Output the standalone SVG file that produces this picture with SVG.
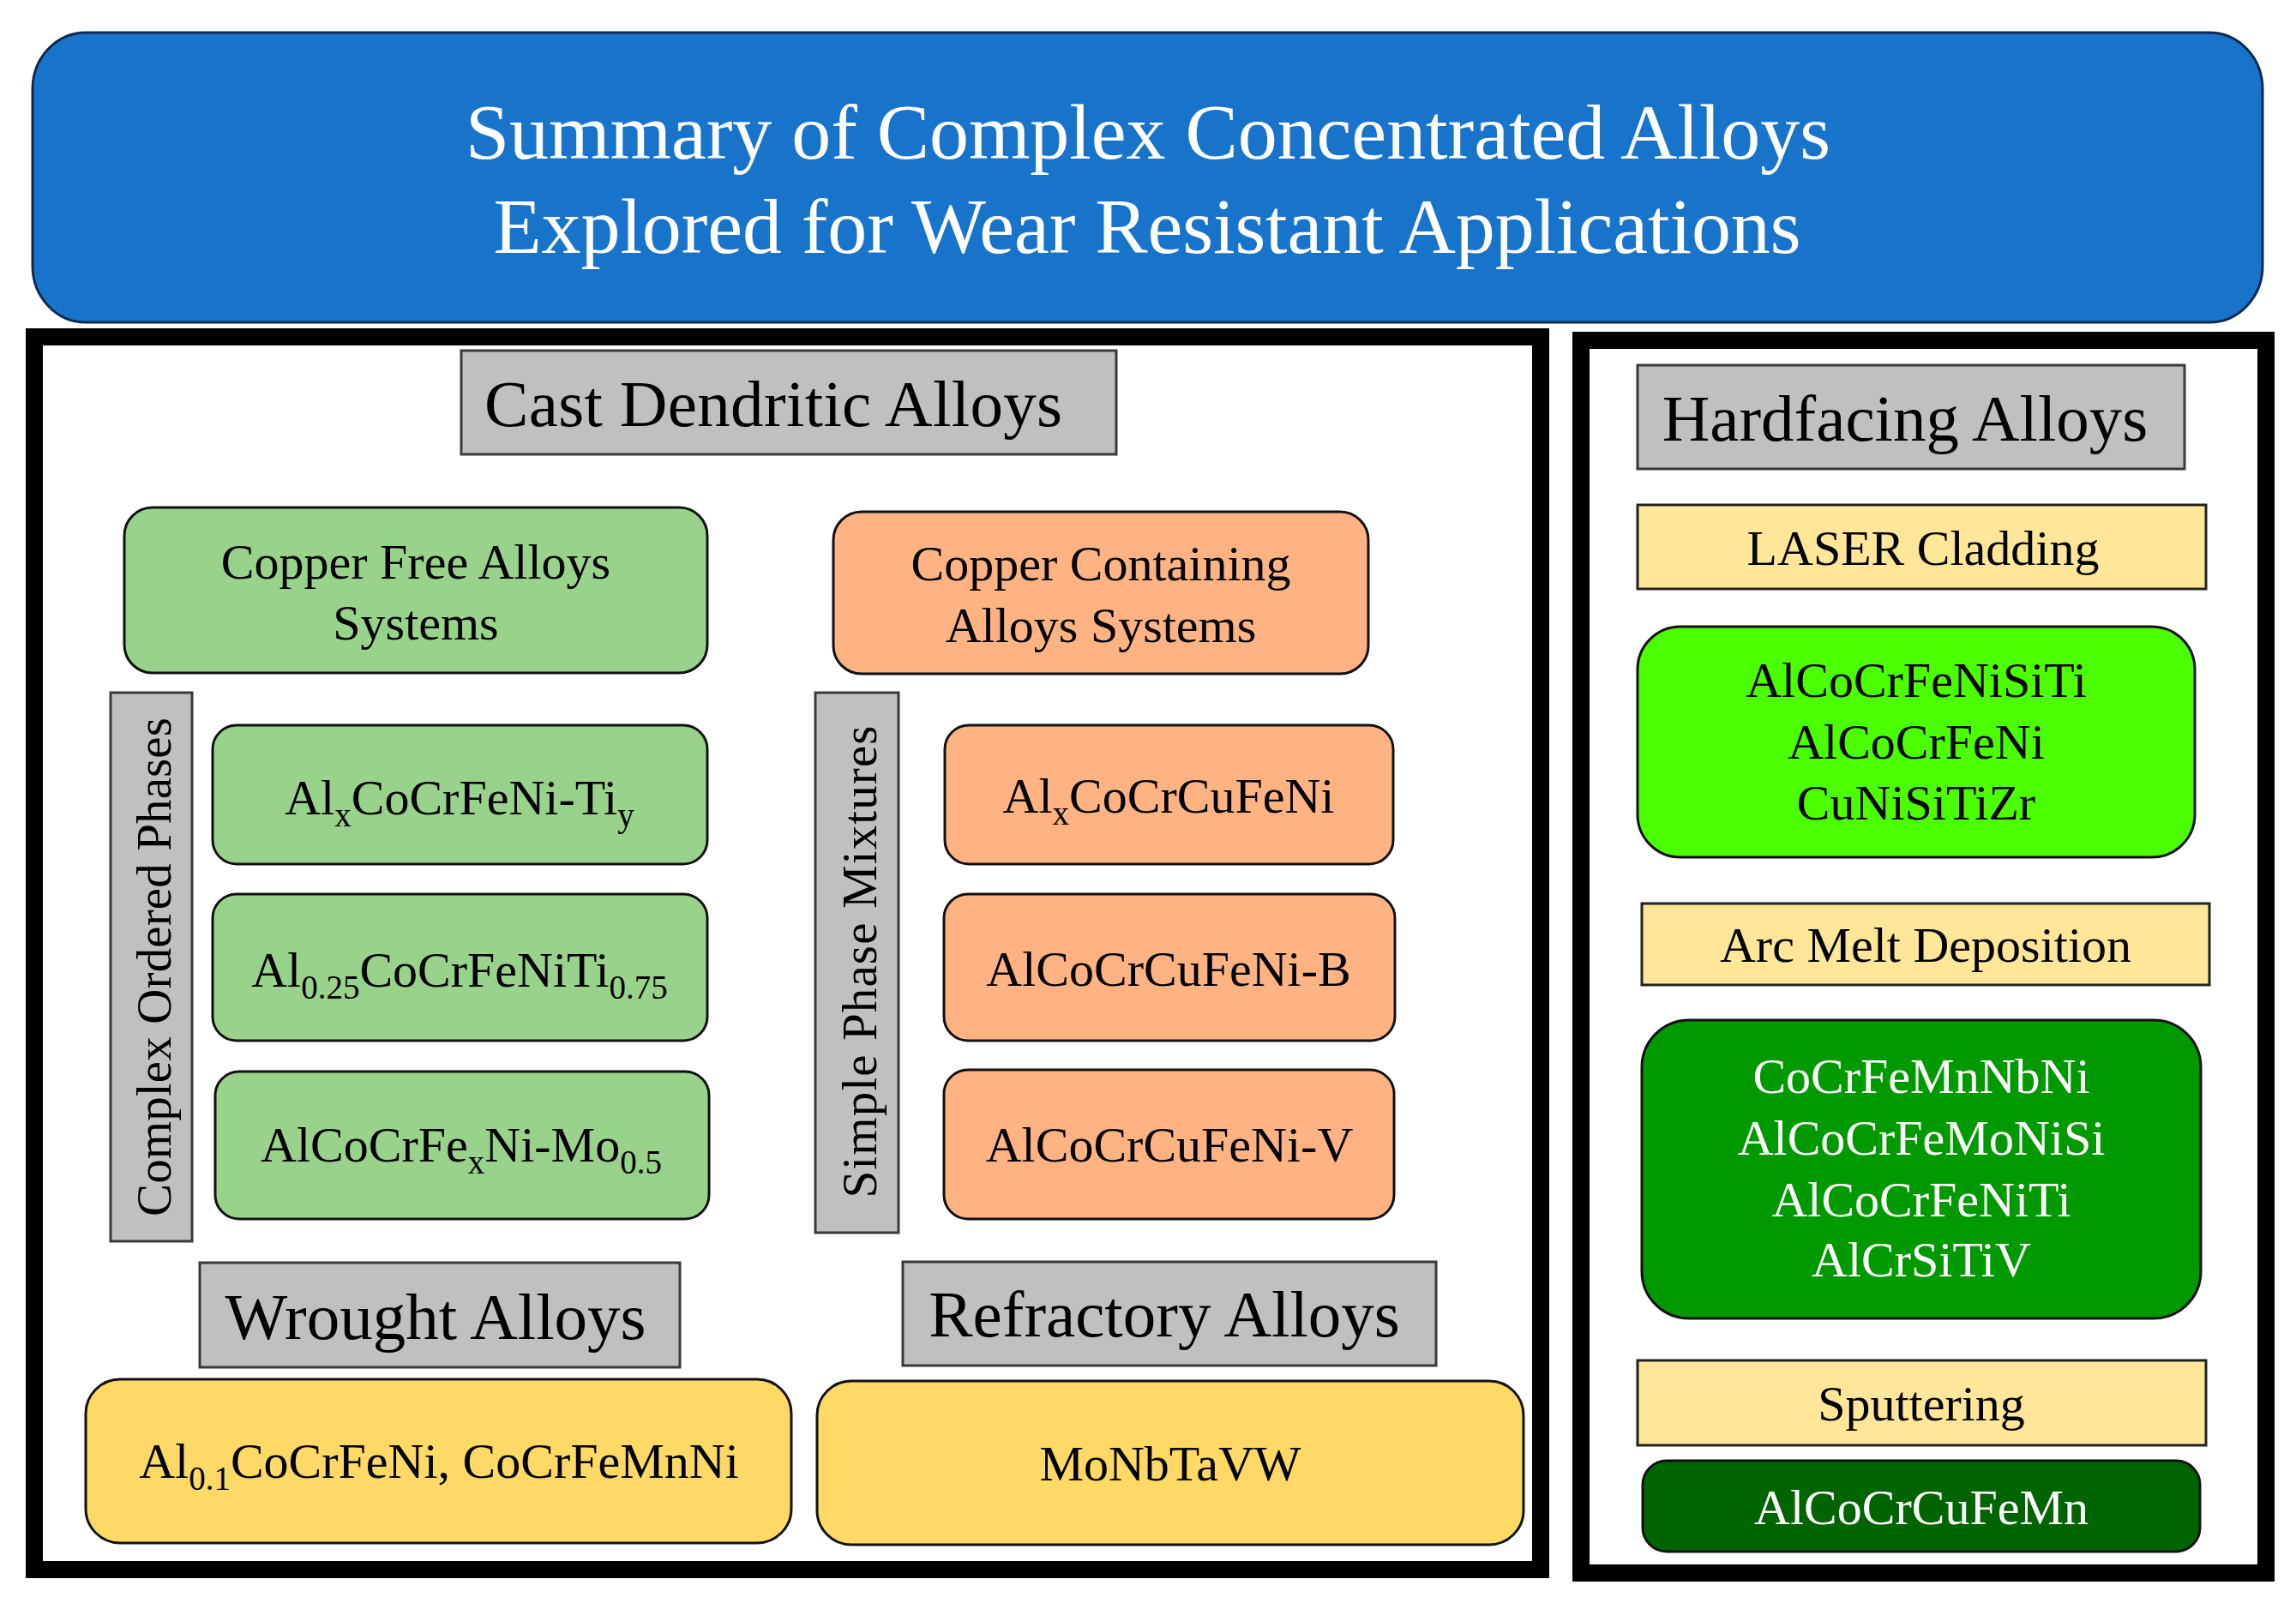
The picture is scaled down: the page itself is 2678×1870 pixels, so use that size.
<svg xmlns="http://www.w3.org/2000/svg" width="2678" height="1870" viewBox="0 0 2678 1870">
<style>
text{font-family:"Liberation Serif","Times New Roman",serif;fill:#000}
.t{font-size:92px;fill:#fff}
.h{font-size:77px}
.b{font-size:58px}
.w{fill:#fff}
.v{font-size:57px}
.gray{fill:#C0C0C0;stroke:#3a3a3a;stroke-width:3}
.frame{fill:none;stroke:#000;stroke-width:20}
.lg{fill:#99D38B;stroke:#111;stroke-width:3}
.or{fill:#FFB382;stroke:#111;stroke-width:3}
.ye{fill:#FFD966;stroke:#111;stroke-width:3}
.ly{fill:#FFE699;stroke:#222;stroke-width:3}
.bg{fill:#4CFF00;stroke:#111;stroke-width:3}
.mg{fill:#009A00;stroke:#111;stroke-width:3}
.dg{fill:#006400;stroke:#111;stroke-width:3}
.s{font-size:39px}
</style>
<rect width="2678" height="1870" fill="#fff"/>
<g id="title">
<rect x="38" y="38" width="2601" height="338" rx="62" ry="66" fill="#1874CB" stroke="#0d2a4f" stroke-width="3"/>
<text class="t" x="1339" y="185" text-anchor="middle" textLength="1592" lengthAdjust="spacing">Summary of Complex Concentrated Alloys</text>
<text class="t" x="1338" y="295" text-anchor="middle" textLength="1525" lengthAdjust="spacing">Explored for Wear Resistant Applications</text>
</g>
<g id="left-panel">
<rect class="frame" x="40" y="393" width="1757" height="1438"/>
</g>
<g id="right-panel">
<rect class="frame" x="1844" y="397" width="799" height="1438"/>
</g>
<g id="cast-dendritic">
<rect class="gray" x="538" y="409" width="764" height="121"/>
<text class="h" x="565" y="497" textLength="674" lengthAdjust="spacing">Cast Dendritic Alloys</text>
</g>
<g id="copper-free">
<rect class="lg" x="145" y="592" width="680" height="193" rx="33"/>
<text class="b" x="485" y="675" text-anchor="middle">Copper Free Alloys</text>
<text class="b" x="485" y="746" text-anchor="middle">Systems</text>
</g>
<g id="copper-containing">
<rect class="or" x="972" y="597" width="624" height="189" rx="33"/>
<text class="b" x="1284" y="677" text-anchor="middle">Copper Containing</text>
<text class="b" x="1284" y="749" text-anchor="middle">Alloys Systems</text>
</g>
<g id="complex-ordered">
<rect class="gray" x="129" y="808" width="95" height="640"/>
<text class="v" transform="translate(199,1128) rotate(-90)" text-anchor="middle" textLength="582" lengthAdjust="spacing">Complex Ordered Phases</text>
</g>
<g id="simple-phase">
<rect class="gray" x="951" y="808" width="97" height="630"/>
<text class="v" transform="translate(1022,1122) rotate(-90)" text-anchor="middle" textLength="551" lengthAdjust="spacing">Simple Phase Mixtures</text>
</g>
<g id="alx-cocrfeni-tiy">
<rect class="lg" x="248" y="846" width="577" height="162" rx="28"/>
<text class="b" x="536" y="950" text-anchor="middle">Al<tspan class="s" dy="14">x</tspan><tspan dy="-14">CoCrFeNi-Ti</tspan><tspan class="s" dy="14">y</tspan></text>
</g>
<g id="al025-cocrfeniti075">
<rect class="lg" x="248" y="1043" width="577" height="171" rx="28"/>
<text class="b" x="536" y="1151" text-anchor="middle">Al<tspan class="s" dy="14">0.25</tspan><tspan dy="-14">CoCrFeNiTi</tspan><tspan class="s" dy="14">0.75</tspan></text>
</g>
<g id="alcocrfexni-mo05">
<rect class="lg" x="251" y="1250" width="576" height="172" rx="28"/>
<text class="b" x="538" y="1355" text-anchor="middle">AlCoCrFe<tspan class="s" dy="14">x</tspan><tspan dy="-14">Ni-Mo</tspan><tspan class="s" dy="14">0.5</tspan></text>
</g>
<g id="alx-cocrcufeni">
<rect class="or" x="1102" y="846" width="523" height="162" rx="28"/>
<text class="b" x="1363" y="948" text-anchor="middle">Al<tspan class="s" dy="14">x</tspan><tspan dy="-14">CoCrCuFeNi</tspan></text>
</g>
<g id="alcocrcufeni-b">
<rect class="or" x="1101" y="1043" width="526" height="171" rx="28"/>
<text class="b" x="1363" y="1150" text-anchor="middle">AlCoCrCuFeNi-B</text>
</g>
<g id="alcocrcufeni-v">
<rect class="or" x="1101" y="1248" width="525" height="174" rx="28"/>
<text class="b" x="1364" y="1355" text-anchor="middle">AlCoCrCuFeNi-V</text>
</g>
<g id="wrought">
<rect class="gray" x="233" y="1473" width="560" height="122"/>
<text class="h" x="508" y="1562" text-anchor="middle">Wrought Alloys</text>
</g>
<g id="refractory">
<rect class="gray" x="1053" y="1472" width="622" height="121"/>
<text class="h" x="1358" y="1559" text-anchor="middle">Refractory Alloys</text>
</g>
<g id="wrought-alloys">
<rect class="ye" x="100" y="1609" width="823" height="191" rx="40"/>
<text class="b" x="512" y="1724" text-anchor="middle">Al<tspan class="s" dy="14">0.1</tspan><tspan dy="-14">CoCrFeNi, CoCrFeMnNi</tspan></text>
</g>
<g id="monbtavw">
<rect class="ye" x="953" y="1611" width="824" height="191" rx="40"/>
<text class="b" x="1365" y="1727" text-anchor="middle">MoNbTaVW</text>
</g>
<g id="hardfacing">
<rect class="gray" x="1910" y="426" width="638" height="121"/>
<text class="h" x="2222" y="514" text-anchor="middle">Hardfacing Alloys</text>
</g>
<g id="laser">
<rect class="ly" x="1910" y="589" width="663" height="98"/>
<text class="b" x="2243" y="659" text-anchor="middle">LASER Cladding</text>
</g>
<g id="laser-alloys">
<rect class="bg" x="1910" y="731" width="650" height="269" rx="50"/>
<text class="b" x="2235" y="813" text-anchor="middle">AlCoCrFeNiSiTi</text>
<text class="b" x="2235" y="885" text-anchor="middle">AlCoCrFeNi</text>
<text class="b" x="2235" y="956" text-anchor="middle">CuNiSiTiZr</text>
</g>
<g id="arc-melt">
<rect class="ly" x="1915" y="1054" width="662" height="95"/>
<text class="b" x="2246" y="1122" text-anchor="middle">Arc Melt Deposition</text>
</g>
<g id="arc-alloys">
<rect class="mg" x="1915" y="1190" width="652" height="348" rx="55"/>
<text class="b w" x="2241" y="1275" text-anchor="middle">CoCrFeMnNbNi</text>
<text class="b w" x="2241" y="1347" text-anchor="middle">AlCoCrFeMoNiSi</text>
<text class="b w" x="2241" y="1419" text-anchor="middle">AlCoCrFeNiTi</text>
<text class="b w" x="2241" y="1489" text-anchor="middle">AlCrSiTiV</text>
</g>
<g id="sputtering">
<rect class="ly" x="1910" y="1587" width="663" height="99"/>
<text class="b" x="2241" y="1657" text-anchor="middle">Sputtering</text>
</g>
<g id="sputter-alloy">
<rect class="dg" x="1916" y="1704" width="650" height="106" rx="28"/>
<text class="b w" x="2241" y="1778" text-anchor="middle">AlCoCrCuFeMn</text>
</g>
<g id="connectors"></g>
</svg>
